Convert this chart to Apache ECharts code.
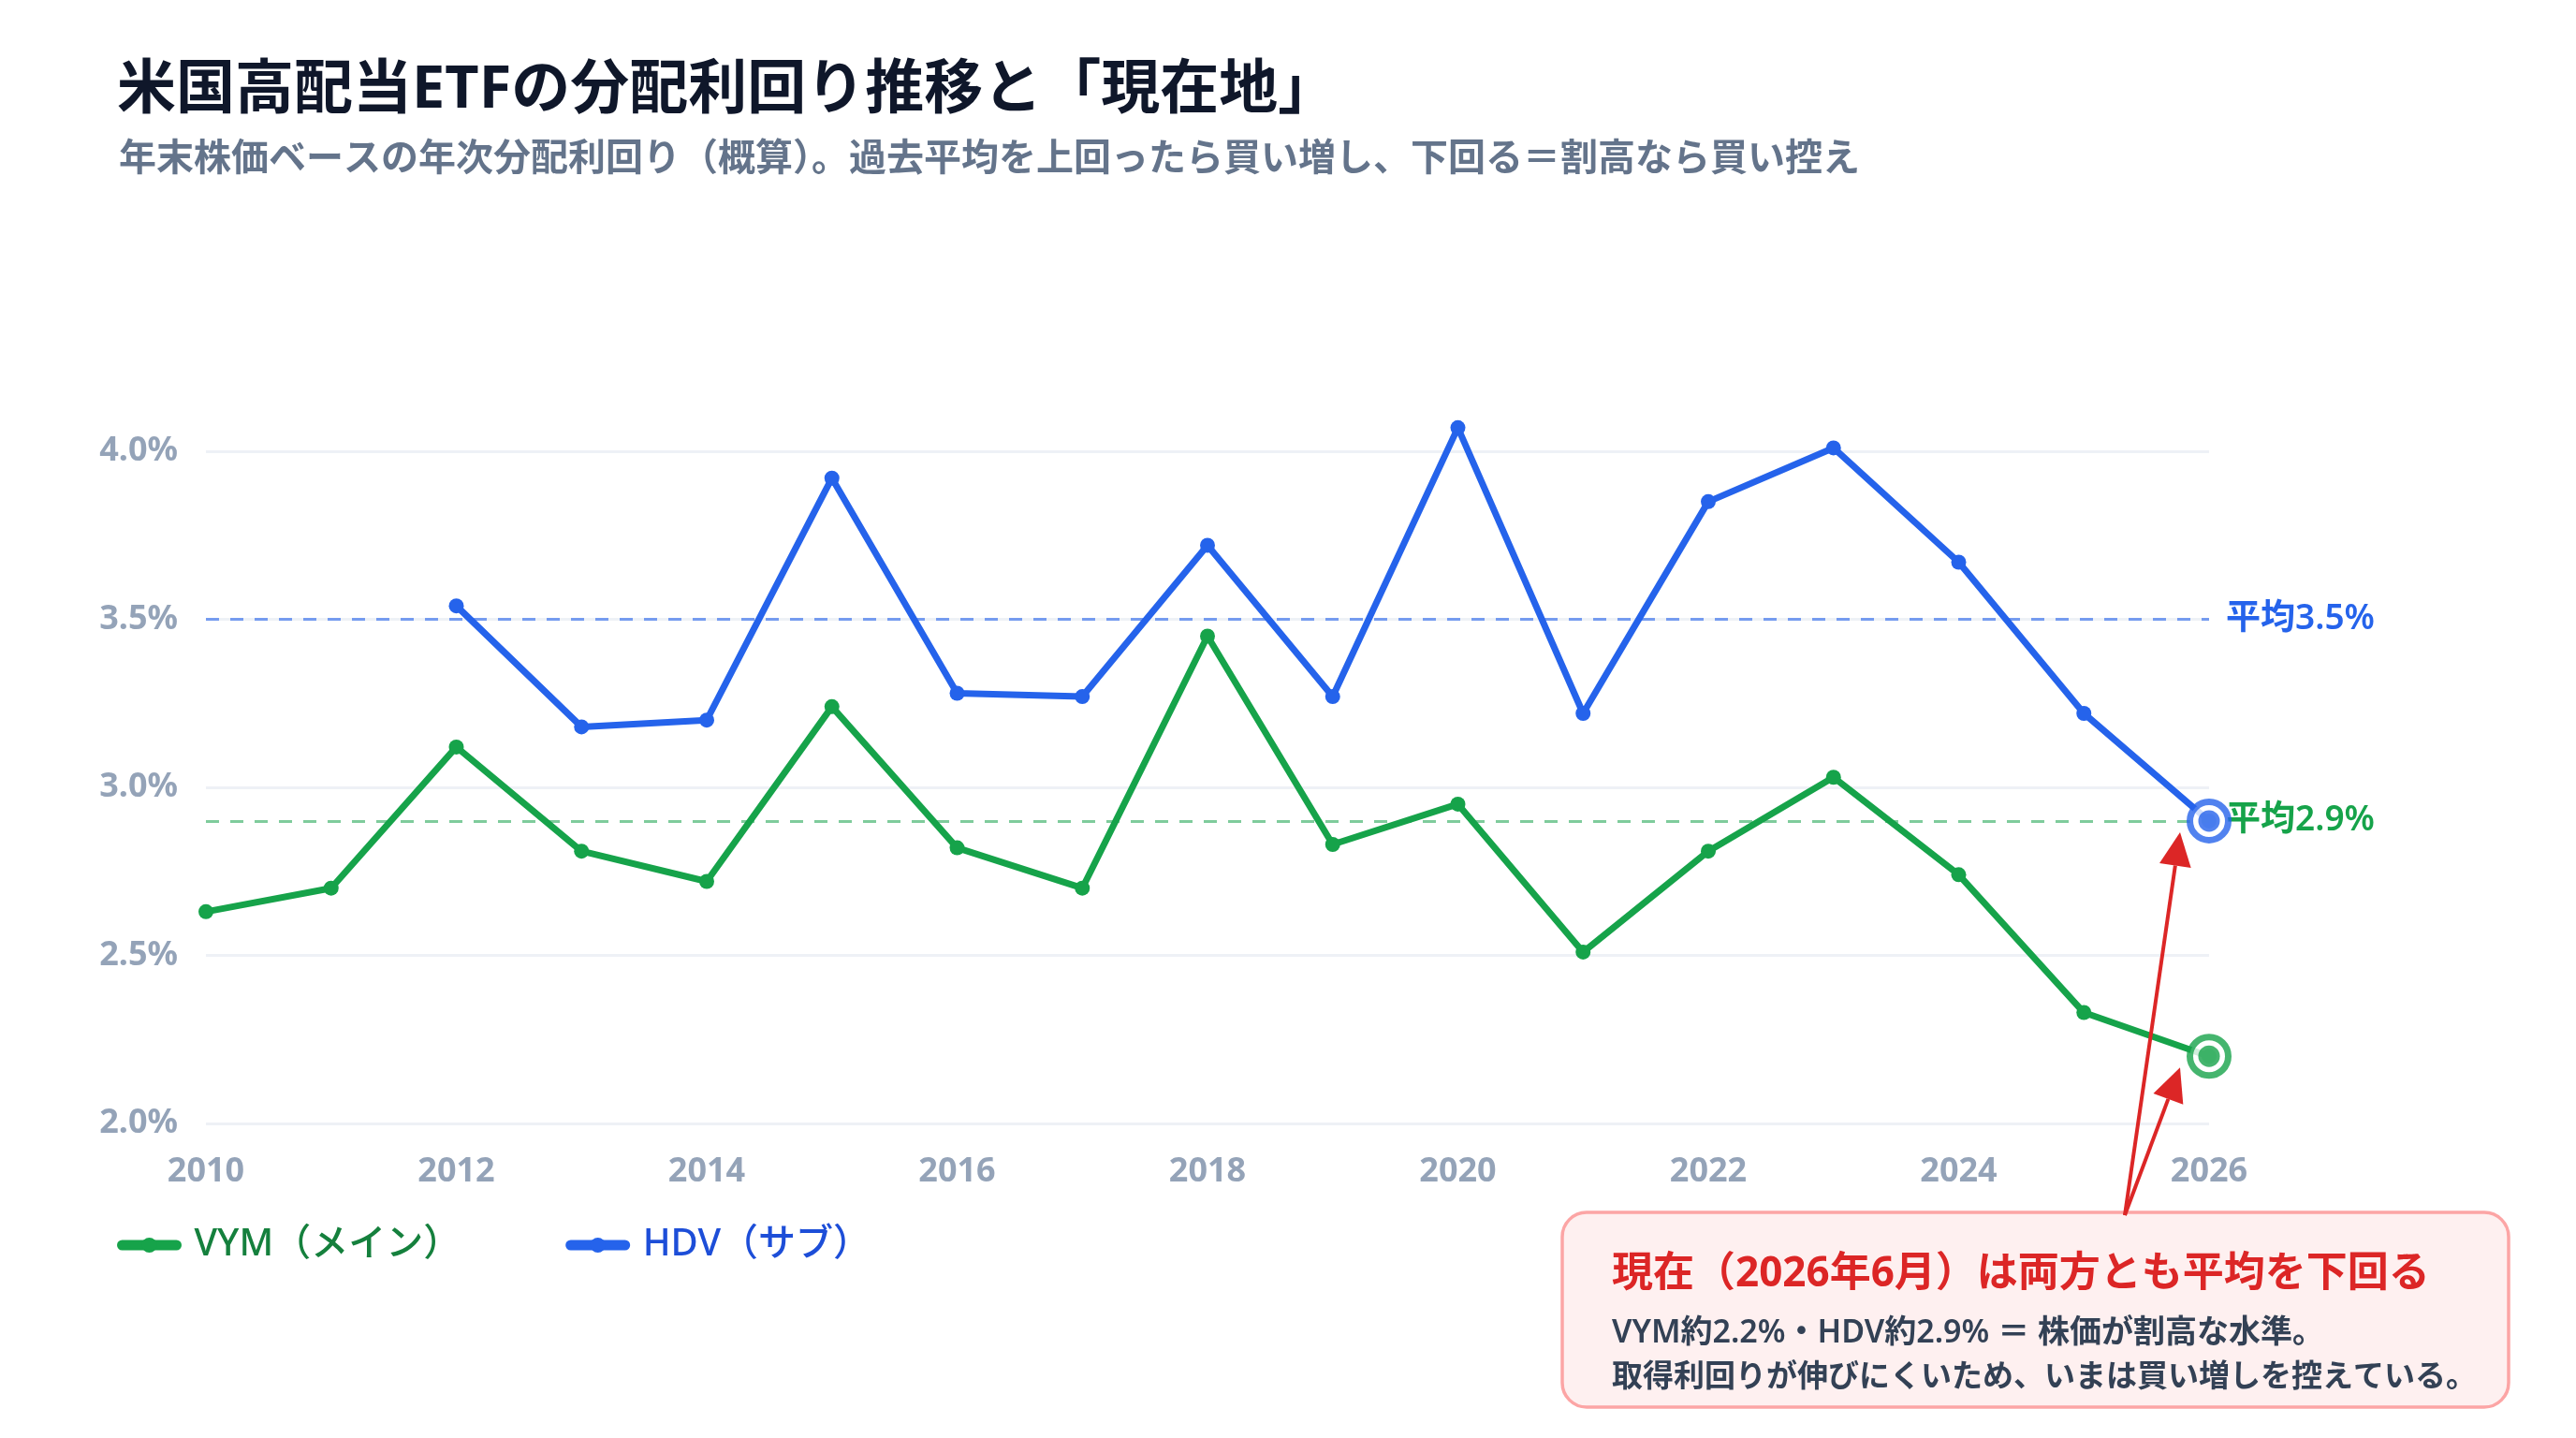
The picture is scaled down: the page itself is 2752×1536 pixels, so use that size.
<!DOCTYPE html>
<html>
<head>
<meta charset="utf-8">
<script src="https://cdn.jsdelivr.net/npm/echarts@6.0.0/dist/echarts.min.js"></script>
<style>
  html, body { margin: 0; padding: 0; background: #fff; }
  #main { width: 2752px; height: 1536px; }
</style>
</head>
<body>
<div id="main"></div>
<script>
// data
const years = ['2010', '2011', '2012', '2013', '2014', '2015', '2016', '2017', '2018',
               '2019', '2020', '2021', '2022', '2023', '2024', '2025', '2026']
const vym = [2.63, 2.70, 3.12, 2.81, 2.72, 3.24, 2.82, 2.70, 3.45, 2.83, 2.95, 2.51, 2.81, 3.03, 2.74, 2.33, 2.20]
const hdv = [null, null, 3.54, 3.18, 3.20, 3.92, 3.28, 3.27, 3.72, 3.27, 4.07, 3.22, 3.85, 4.01, 3.67, 3.22, 2.90]
const averages = [2.9, 3.5]          // VYM, HDV
const seriesNames = ['VYM（メイン）', 'HDV（サブ）']
const yRange = [2.0, 4.0, 0.5]       // min, max, step

const FONT = "'Noto Sans', 'Noto Sans CJK JP', sans-serif"
const GREEN = '#16a34a'
const BLUE = '#2563eb'
const RED = '#dc2626'

const chart = echarts.init(document.getElementById('main'))
const last = years.length - 1

function avgLine(value, color, lineColor) {
    return {
        silent: true,
        symbol: 'none',
        lineStyle: { type: [14, 12], width: 3, color: lineColor },
        label: {
            position: 'end',
            distance: 18,
            formatter: '平均' + value.toFixed(1) + '%',
            color: color,
            fontFamily: FONT,
            fontSize: 37,
            fontWeight: 600
        },
        data: [{ yAxis: value }]
    }
}

chart.setOption({
    animation: false,
    backgroundColor: '#fff',
    title: [{
        text: '米国高配当ETFの分配利回り推移と「現在地」',
        left: 120, top: 61,
        textStyle: { fontFamily: FONT, fontSize: 63, fontWeight: 'bold', color: '#0f172a' }
    }, {
        text: '年末株価ベースの年次分配利回り（概算）。過去平均を上回ったら買い増し、下回る＝割高なら買い控え',
        left: 122, top: 146,
        textStyle: { fontFamily: FONT, fontSize: 40, fontWeight: 'bold', color: '#64748b' }
    }],
    grid: { left: 220, right: 392, top: 482, bottom: 336 },
    legend: {
        left: 120, top: 1305,
        itemWidth: 58, itemHeight: 20, itemGap: 112,
        lineStyle: { width: 11, cap: 'round' },
        textStyle: { fontFamily: FONT, fontSize: 40, fontWeight: 500, padding: [0, 0, 0, 14] },
        data: [
            { name: seriesNames[0], textStyle: { color: '#15803d' } },
            { name: seriesNames[1], textStyle: { color: '#1d4ed8' } }
        ]
    },
    xAxis: {
        type: 'category',
        data: years,
        boundaryGap: false,
        axisLine: { show: false },
        axisTick: { show: false },
        axisLabel: { interval: 1, margin: 34, color: '#94a3b8', fontFamily: FONT, fontSize: 36, fontWeight: 'bold' }
    },
    yAxis: {
        type: 'value',
        min: yRange[0], max: yRange[1], interval: yRange[2],
        axisLine: { show: false },
        axisTick: { show: false },
        axisLabel: {
            margin: 30, color: '#94a3b8', fontFamily: FONT, fontSize: 36, fontWeight: 'bold',
            formatter: v => v.toFixed(1) + '%'
        },
        splitLine: { lineStyle: { color: '#eef1f6', width: 3 } }
    },
    series: [{
        name: seriesNames[0],
        type: 'line',
        data: vym,
        clip: false,
        z: 3,
        symbol: 'circle', symbolSize: 16,
        lineStyle: { color: GREEN, width: 7 },
        itemStyle: { color: GREEN },
        markLine: avgLine(averages[0], GREEN, 'rgba(22,163,74,0.55)')
    }, {
        name: seriesNames[1],
        type: 'line',
        data: hdv,
        clip: false,
        z: 3,
        symbol: 'circle', symbolSize: 16,
        lineStyle: { color: BLUE, width: 7 },
        itemStyle: { color: BLUE },
        markLine: avgLine(averages[1], BLUE, 'rgba(37,99,235,0.6)')
    }, {
        // "現在地" rings on the latest values
        type: 'scatter', silent: true, z: 5,
        symbolSize: 41,
        data: [
            { value: [last, vym[last]], itemStyle: { borderColor: GREEN } },
            { value: [last, hdv[last]], itemStyle: { borderColor: BLUE } }
        ],
        itemStyle: { color: '#fff', borderWidth: 7 }
    }, {
        type: 'scatter', silent: true, z: 6,
        symbolSize: 23,
        data: [
            { value: [last, vym[last]], itemStyle: { color: GREEN } },
            { value: [last, hdv[last]], itemStyle: { color: BLUE } }
        ]
    }]
})

// callout box + arrows pointing at the current values
const box = { x: 1669, y: 1295, w: 1011, h: 208 }
const start = [2270, 1298]

function arrow(target) {
    const tip = [target[0] - 31, target[1] + 12]
    const dx = tip[0] - start[0], dy = tip[1] - start[1]
    const len = Math.sqrt(dx * dx + dy * dy)
    const ux = dx / len, uy = dy / len
    const headLen = 36, headHalf = 17
    const bx = tip[0] - ux * headLen, by = tip[1] - uy * headLen
    return [{
        type: 'line', z: 20,
        shape: { x1: start[0], y1: start[1], x2: bx, y2: by },
        style: { stroke: RED, lineWidth: 4 }
    }, {
        type: 'polygon', z: 20,
        shape: { points: [tip, [bx - uy * headHalf, by + ux * headHalf], [bx + uy * headHalf, by - ux * headHalf]] },
        style: { fill: RED }
    }]
}

const pVym = chart.convertToPixel({ seriesIndex: 0 }, [last, vym[last]])
const pHdv = chart.convertToPixel({ seriesIndex: 1 }, [last, hdv[last]])

chart.setOption({
    graphic: [
        {
            type: 'rect', z: 10,
            shape: { x: box.x, y: box.y, width: box.w, height: box.h, r: 26 },
            style: { fill: '#fef0f0', stroke: '#fca5a5', lineWidth: 3.5 }
        },
        {
            type: 'text', z: 11, x: 1722, y: 1361,
            style: {
                text: '現在（2026年6月）は両方とも平均を下回る',
                fill: RED, font: 'bold 44px ' + FONT, textVerticalAlign: 'middle'
            }
        },
        {
            type: 'text', z: 11, x: 1722, y: 1424,
            style: {
                text: 'VYM約2.2%・HDV約2.9% ＝ 株価が割高な水準。',
                fill: '#334155', font: '600 34px ' + FONT, textVerticalAlign: 'middle'
            }
        },
        {
            type: 'text', z: 11, x: 1722, y: 1472,
            style: {
                text: '取得利回りが伸びにくいため、いまは買い増しを控えている。',
                fill: '#334155', font: '600 33px ' + FONT, textVerticalAlign: 'middle'
            }
        }
    ].concat(arrow(pHdv), arrow(pVym))
})
</script>
</body>
</html>
